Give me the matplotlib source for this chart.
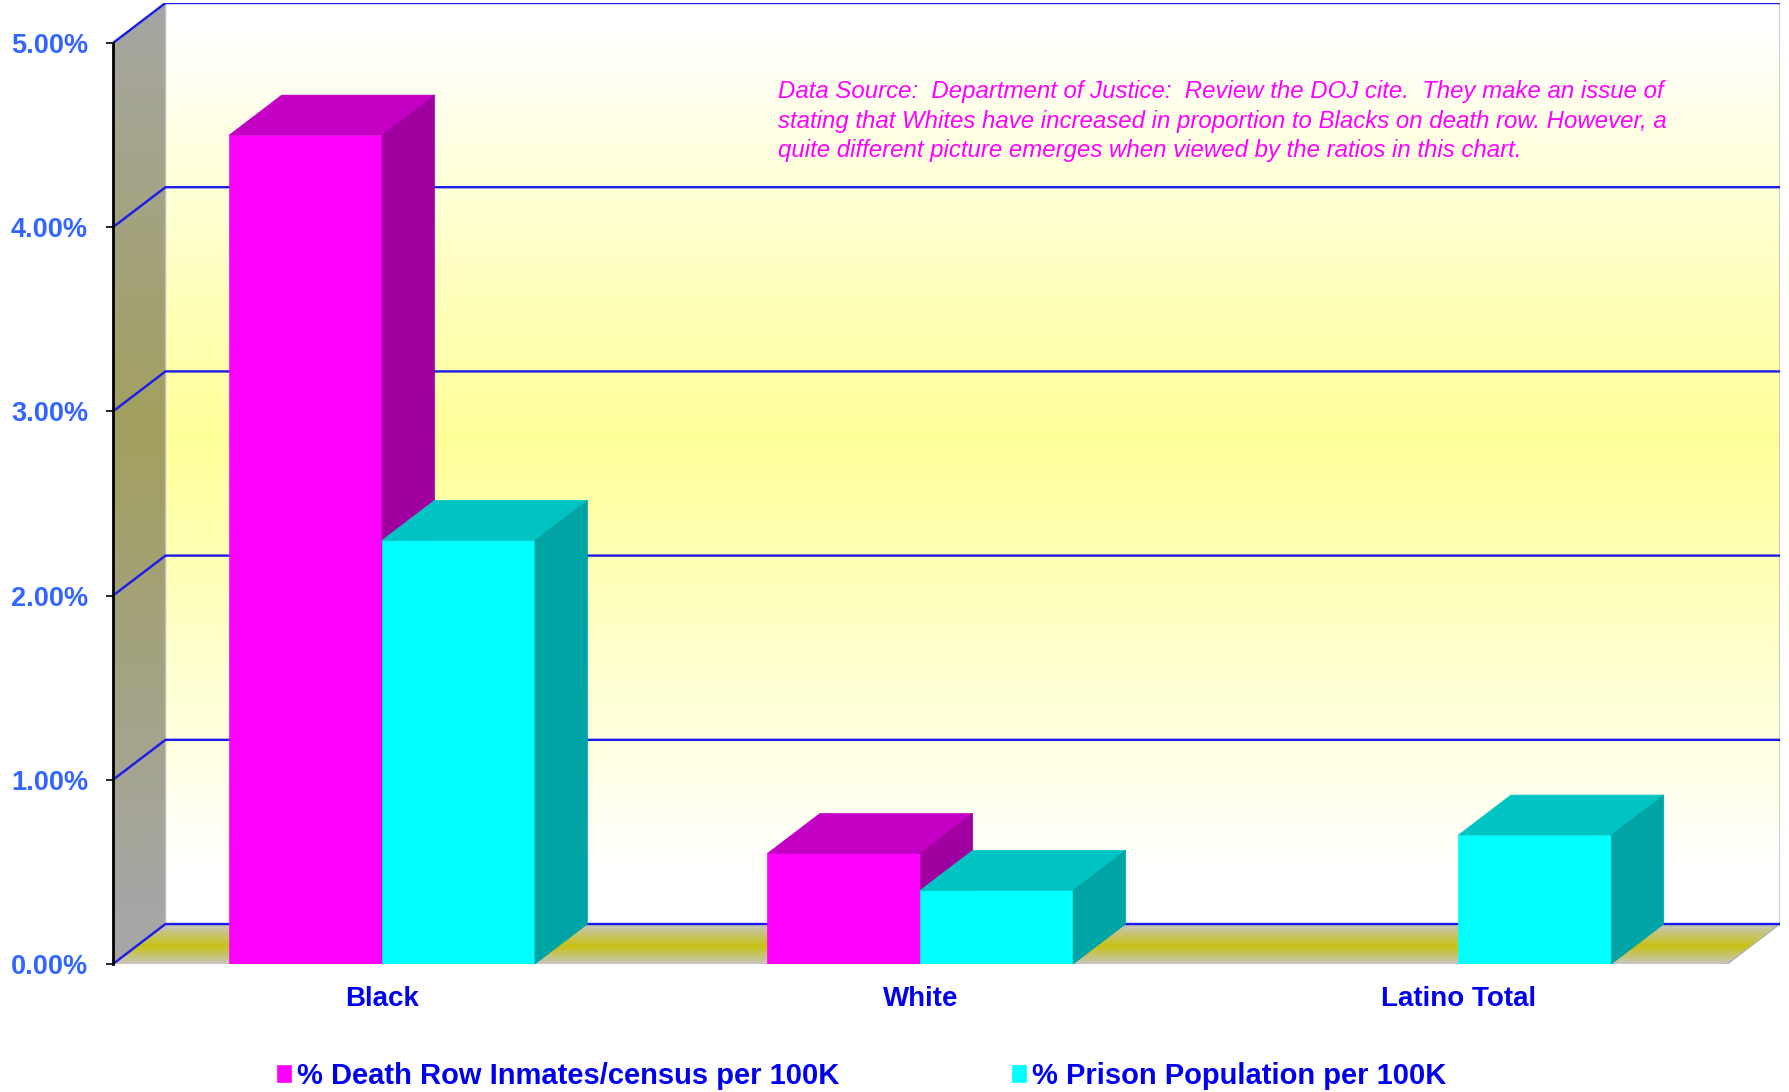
import numpy as np
import matplotlib.pyplot as plt
from matplotlib.patches import Polygon
from matplotlib.colors import to_rgb

# ---- data (values in percent) ----
categories = ['Black', 'White', 'Latino Total']
death_row = [4.50, 0.60, np.nan]   # % Death Row Inmates/census per 100K
prison = [2.30, 0.40, 0.70]        # % Prison Population per 100K
series_names = ['% Death Row Inmates/census per 100K', '% Prison Population per 100K']
yticks = [0, 1, 2, 3, 4, 5]

note = ('Data Source:  Department of Justice:  Review the DOJ cite.  They make an issue of\n'
        'stating that Whites have increased in proportion to Blacks on death row. However, a\n'
        'quite different picture emerges when viewed by the ratios in this chart.')

# ---- style ----
front_c = ['#FF00FF', '#00FFFF']
top_c = ['#C400C4', '#00C4C4']
side_c = ['#A000A0', '#00A4A4']
grid_c = '#1A1AF0'
tick_c = '#3366FF'
label_c = '#0000EE'

W = 0.284              # bar width (category units)
DX, DY = 0.0975, 0.217  # 3d depth offset
YMAX = yticks[-1]
n = len(categories)
x = np.arange(n)

plt.rcParams['font.family'] = ['Liberation Sans', 'DejaVu Sans']

fig = plt.figure(figsize=(17.89, 10.92), dpi=100)
ax = fig.add_axes([113 / 1789, 1 - 964 / 1092, (1780 - 113) / 1789, (964 - 3) / 1092])


def gradient_poly(verts, c_edge, c_mid, y_lo, y_mid, y_hi, z):
    """fill a polygon with a vertical two-sided gradient"""
    poly = Polygon(verts, closed=True, facecolor='none', edgecolor='none', zorder=z)
    ax.add_patch(poly)
    xs = [v[0] for v in verts]
    ys = [v[1] for v in verts]
    yy = np.linspace(max(ys), min(ys), 400)
    t = np.where(yy >= y_mid, (y_hi - yy) / (y_hi - y_mid), (yy - y_lo) / (y_mid - y_lo))
    t = np.clip(t, 0, 1)[:, None]
    rgb = (1 - t) * np.array(to_rgb(c_edge)) + t * np.array(to_rgb(c_mid))
    img = np.repeat(rgb[:, None, :], 2, axis=1)
    im = ax.imshow(img, extent=(min(xs), max(xs), min(ys), max(ys)),
                   aspect='auto', interpolation='bilinear', zorder=z)
    im.set_clip_path(poly)


x0, x1 = -0.5, n - 0.5

# walls and floor
gradient_poly([(x0 + DX, DY), (x1 + DX, DY), (x1 + DX, YMAX + DY), (x0 + DX, YMAX + DY)],
              '#FFFFFF', '#FFFF99', 0.5, 2.85, YMAX + 0.1, 0)
gradient_poly([(x0, 0), (x0 + DX, DY), (x0 + DX, YMAX + DY), (x0, YMAX)],
              '#A6A6A6', '#A2A05E', 0.3, 2.9, YMAX + 0.3, 0)
gradient_poly([(x0, 0), (x1, 0), (x1 + DX, DY), (x0 + DX, DY)],
              '#C6C6C2', '#C8C214', 0, DY * 0.45, DY, 0)

# outline of the box
ax.plot([x1, x1 + DX, x1 + DX], [0, DY, YMAX + DY], color='#B4B4B4', lw=1, zorder=1)
ax.plot([x0 + DX, x0 + DX], [DY, YMAX + DY], color='#BDBDBD', lw=1, zorder=1)
ax.plot([x0, x1], [0, 0], color='#D0D0D0', lw=1, zorder=1)

# gridlines on side wall and back wall
for g in yticks:
    ax.plot([x0, x0 + DX, x1 + DX], [g, g + DY, g + DY], color=grid_c, lw=1.7, zorder=2)

# bars with depth
bars = []
for s, vals in enumerate([death_row, prison]):
    xs = x - W / 2 + s * W
    b = ax.bar(xs, vals, width=W, color=front_c[s], edgecolor=front_c[s],
               linewidth=0.5, zorder=3 + s)
    bars.append(b)
    for xc, v in zip(xs, vals):
        if np.isnan(v):
            continue
        l, r = xc - W / 2, xc + W / 2
        ax.add_patch(Polygon([(l, v), (l + DX, v + DY), (r + DX, v + DY), (r, v)],
                             facecolor=top_c[s], edgecolor=top_c[s], lw=0.5, zorder=3 + s))
        ax.add_patch(Polygon([(r, 0), (r + DX, DY), (r + DX, v + DY), (r, v)],
                             facecolor=side_c[s], edgecolor=side_c[s], lw=0.5, zorder=3 + s))

ax.set_xlim(x0, x1 + DX)
ax.set_ylim(0, YMAX + DY)

for sp in ['top', 'right', 'bottom']:
    ax.spines[sp].set_visible(False)
ax.spines['left'].set_bounds(0, YMAX)
ax.spines['left'].set_linewidth(2)
ax.spines['left'].set_zorder(6)

ax.set_yticks(yticks, ['{:.2f}%'.format(t) for t in yticks], fontweight='bold')
ax.tick_params(axis='y', direction='out', length=5, width=1.2, pad=13,
               labelsize=19.5, labelcolor=tick_c)
ax.set_xticks(x, categories, fontweight='bold')
ax.tick_params(axis='x', length=0, pad=16, labelsize=20, labelcolor=label_c)

fig.text(778 / 1789, 1 - 80 / 1092, note, ha='left', va='top', fontsize=17.3,
         style='italic', color='#FF00FF', linespacing=1.37)

fig.legend(bars, series_names, loc='center', bbox_to_anchor=(0.4816, 0.0147),
           ncol=2, frameon=False, prop={'weight': 'bold', 'size': 21},
           labelcolor=label_c, handlelength=0.5, handleheight=0.5,
           handletextpad=0.2, columnspacing=5.9, borderpad=0)

fig.savefig('out.png', dpi=100)
